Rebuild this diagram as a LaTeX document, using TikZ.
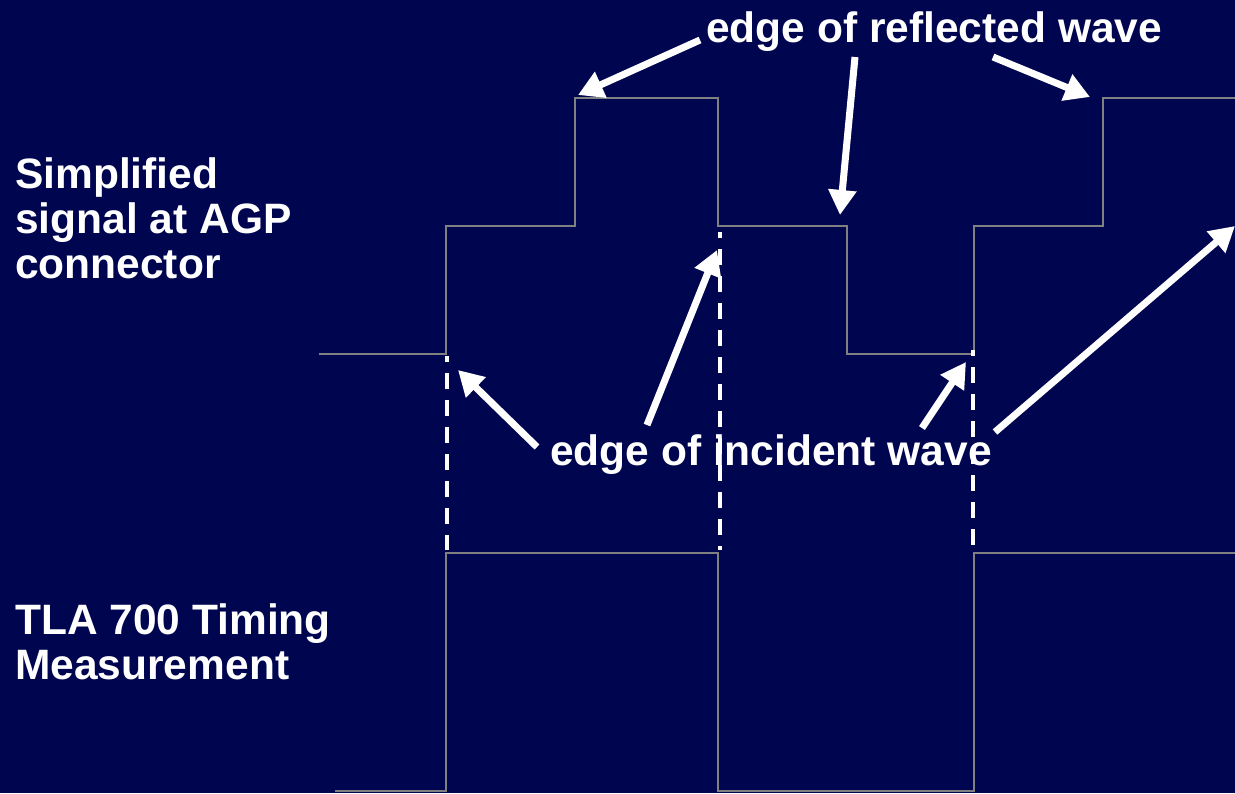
\documentclass[tikz,border=0pt]{standalone}
\usepackage{fontspec}
\setmainfont{Liberation Sans}
\usetikzlibrary{arrows.meta}
\definecolor{bgnavy}{RGB}{0,5,80}
\definecolor{wavegray}{RGB}{128,128,128}
\begin{document}
\begin{tikzpicture}[x=1pt,y=-1pt,
  wave/.style={draw=wavegray,line width=2pt,line join=miter},
  guide/.style={draw=white,line width=3.5pt,dash pattern=on 16pt off 11pt,dash phase=10pt},
  pointer/.style={draw=white,line width=7pt,-{Triangle[length=25pt,width=27pt]}},
  lbl/.style={text=white,font=\bfseries\fontsize{42.5}{45}\selectfont,inner sep=0pt,align=left}]
\fill[bgnavy] (0,0) rectangle (1235,793);
\useasboundingbox (0,0) rectangle (1235,793);
% waveforms
\draw[wave] (319,354) -- (446,354) -- (446,226) -- (575,226) -- (575,98) -- (718,98) -- (718,226) -- (847,226) -- (847,354) -- (974,354) -- (974,226) -- (1103,226) -- (1103,98) -- (1236,98);
\draw[wave] (335,791) -- (446,791) -- (446,553) -- (718,553) -- (718,791) -- (974,791) -- (974,553) -- (1236,553);
% dashed guides
\coordinate (d1t) at (447,356); \coordinate (d1b) at (447,550);
\coordinate (d2t) at (720,232); \coordinate (d2b) at (720,550);
\coordinate (d3t) at (973,350); \coordinate (d3b) at (973,550);
\draw[guide] (d1t) -- (d1b);
\draw[guide] (d2t) -- (d2b);
\draw[guide] (d3t) -- (d3b);
% labels
\node[lbl,anchor=north west] (sig) at (15,157) {Simplified\\signal at AGP\\connector};
\node[lbl,anchor=north west] (tla) at (15,603) {TLA 700 Timing\\Measurement};
\node[lbl,anchor=base west] (refl) at (706,42) {edge of reflected wave};
\node[lbl,anchor=base west] (inc) at (550,465) {edge of incident wave};
% reflected arrows
\coordinate (r1s) at (700,40);  \coordinate (r1e) at (578,95);
\coordinate (r2s) at (855,57);  \coordinate (r2e) at (840,215);
\coordinate (r3s) at (993,57);  \coordinate (r3e) at (1090,97);
\draw[pointer] (r1s) -- (r1e);
\draw[pointer] (r2s) -- (r2e);
\draw[pointer] (r3s) -- (r3e);
% incident arrows
\coordinate (i1s) at (537,447); \coordinate (i1e) at (458,370);
\coordinate (i2s) at (647,425); \coordinate (i2e) at (717,250);
\coordinate (i3s) at (922,428); \coordinate (i3e) at (966,362);
\coordinate (i4s) at (995,432); \coordinate (i4e) at (1235,226);
\draw[pointer] (i1s) -- (i1e);
\draw[pointer] (i2s) -- (i2e);
\draw[pointer] (i3s) -- (i3e);
\draw[pointer] (i4s) -- (i4e);
\end{tikzpicture}
\end{document}
